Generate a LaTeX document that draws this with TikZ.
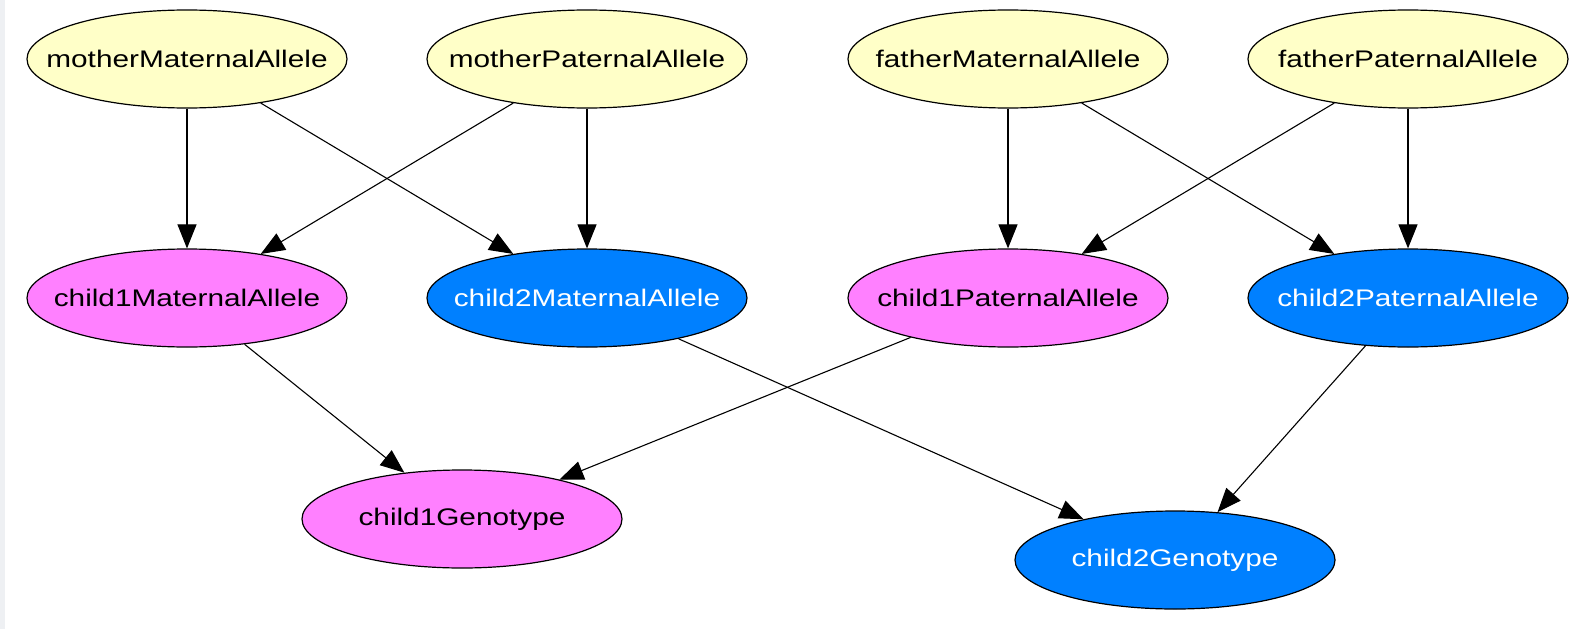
\documentclass[tikz,border=0pt]{standalone}
\usepackage{graphicx}
\usepackage{fontspec}
\setmainfont{Liberation Sans}
\usetikzlibrary{shapes.geometric,arrows.meta}
\definecolor{yel}{RGB}{255,255,200}
\definecolor{pnk}{RGB}{255,128,255}
\definecolor{blu}{RGB}{0,128,255}
\definecolor{strip}{RGB}{238,240,243}
\newcommand{\lbl}[1]{\makebox[0pt]{\scalebox{1.24}[1]{#1}}}
\tikzset{
  gnode/.style={ellipse, draw=black, line width=1.2pt, minimum width=320pt, minimum height=98pt, inner sep=0pt,
    font=\fontsize{24}{24}\selectfont},
  parent/.style={gnode, fill=yel, text=black},
  pinkn/.style={gnode, fill=pnk, text=black},
  bluen/.style={gnode, fill=blu, text=white},
  edge/.style={draw=black, line width=1.1pt, -{Triangle[length=24pt,width=19pt]}, shorten >=0pt}
}
\begin{document}
\begin{tikzpicture}[x=1pt,y=-1pt]
\useasboundingbox (0,0) rectangle (1571,629);
\fill[white] (0,0) rectangle (1571,629);
\fill[strip] (0,0) rectangle (5,629);
\node[parent] (mMA) at (187,59) {\lbl{motherMaternalAllele}};
\node[parent] (mPA) at (587,59) {\lbl{motherPaternalAllele}};
\node[parent] (fMA) at (1008,59) {\lbl{fatherMaternalAllele}};
\node[parent] (fPA) at (1408,59) {\lbl{fatherPaternalAllele}};
\node[pinkn] (c1MA) at (187,298) {\lbl{child1MaternalAllele}};
\node[bluen] (c2MA) at (587,298) {\lbl{child2MaternalAllele}};
\node[pinkn] (c1PA) at (1008,298) {\lbl{child1PaternalAllele}};
\node[bluen] (c2PA) at (1408,298) {\lbl{child2PaternalAllele}};
\node[pinkn] (c1G) at (462,519) {\lbl{child1Genotype}};
\node[bluen] (c2G) at (1175,560) {\lbl{child2Genotype}};
\draw[edge] (mMA) -- (c1MA);
\draw[edge] (mMA) -- (c2MA);
\draw[edge] (mPA) -- (c1MA);
\draw[edge] (mPA) -- (c2MA);
\draw[edge] (fMA) -- (c1PA);
\draw[edge] (fMA) -- (c2PA);
\draw[edge] (fPA) -- (c1PA);
\draw[edge] (fPA) -- (c2PA);
\draw[edge] (c1MA) -- (c1G);
\draw[edge] (c1PA) -- (c1G);
\draw[edge] (c2MA) -- (c2G);
\draw[edge] (c2PA) -- (c2G);
\end{tikzpicture}
\end{document}
